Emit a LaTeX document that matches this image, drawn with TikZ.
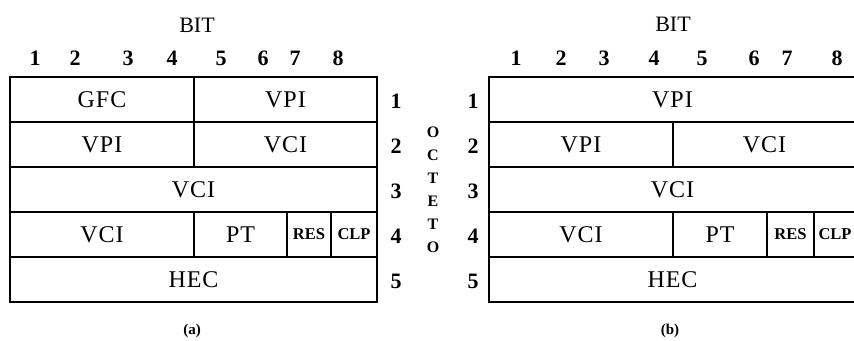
\documentclass[tikz,border=0pt]{standalone}
\usepackage{fontspec}
\setmainfont{Liberation Serif}
\newfontfamily\cellfont[LetterSpace=4]{Liberation Serif}
\newfontfamily\numfont{Liberation Serif}
\begin{document}
\begin{tikzpicture}[x=1pt,y=-1pt,
  cell/.style={draw, line width=1.2pt, minimum height=45pt, inner sep=0pt,
    font=\cellfont\fontsize{24}{24}\selectfont},
  smallcell/.style={cell, font=\numfont\bfseries\fontsize{16.5}{16.5}\selectfont},
  bitnum/.style={font=\numfont\bfseries\fontsize{22}{22}\selectfont, inner sep=0pt},
  rownum/.style={font=\numfont\bfseries\fontsize{22}{22}\selectfont, inner sep=0pt},
  octlet/.style={font=\numfont\bfseries\fontsize{16}{16}\selectfont, inner sep=0pt},
  bittitle/.style={font=\numfont\fontsize{22}{22}\selectfont, inner sep=0pt},
  caption/.style={font=\numfont\bfseries\fontsize{15}{15}\selectfont, inner sep=0pt}]
\useasboundingbox (0,0) rectangle (854,340);
\clip (0,0) rectangle (854,340);
% ---------- (a) ----------
\node[bittitle] (abit) at (197,25) {BIT};
\foreach \n/\x in {1/35,2/75,3/128,4/172,5/221,6/263,7/295,8/338}
  \node[bitnum] (ab\n) at (\x,58) {\n};
\node[cell, minimum width=184pt] (a11) at (102,99.5) {GFC};
\node[cell, minimum width=183pt] (a12) at (285.5,99.5) {VPI};
\node[cell, minimum width=184pt] (a21) at (102,144.5) {VPI};
\node[cell, minimum width=183pt] (a22) at (285.5,144.5) {VCI};
\node[cell, minimum width=367pt] (a31) at (193.5,189.5) {VCI};
\node[cell, minimum width=184pt] (a41) at (102,234.5) {VCI};
\node[cell, minimum width=93pt] (a42) at (240.5,234.5) {PT};
\node[smallcell, minimum width=44pt] (a43) at (309,234.5) {RES};
\node[smallcell, minimum width=46pt] (a44) at (354,234.5) {CLP};
\node[cell, minimum width=367pt] (a51) at (193.5,279.5) {HEC};
\foreach \n/\y in {1/101,2/146,3/191,4/236,5/281}
  \node[rownum] (ar\n) at (396,\y) {\n};
\node[caption] (acap) at (192,331) {(a)};
% ---------- OCTETO ----------
\foreach \l/\y [count=\i] in {O/132,C/155,T/178,E/201,T/224,O/247}
  \node[octlet] (oct\i) at (433,\y) {\l};
% ---------- (b) ----------
\node[bittitle] (bbit) at (673,24) {BIT};
\foreach \n/\x in {1/516,2/561,3/604,4/654,5/702,6/754,7/787,8/837}
  \node[bitnum] (bb\n) at (\x,58) {\n};
\node[cell, minimum width=367pt] (b11) at (672.5,99.5) {VPI};
\node[cell, minimum width=184pt] (b21) at (581,144.5) {VPI};
\node[cell, minimum width=183pt] (b22) at (764.5,144.5) {VCI};
\node[cell, minimum width=367pt] (b31) at (672.5,189.5) {VCI};
\node[cell, minimum width=184pt] (b41) at (581,234.5) {VCI};
\node[cell, minimum width=94pt] (b42) at (720,234.5) {PT};
\node[smallcell, minimum width=47pt] (b43) at (790.5,234.5) {RES};
\node[smallcell, minimum width=42pt] (b44) at (835,234.5) {CLP};
\node[cell, minimum width=367pt] (b51) at (672.5,279.5) {HEC};
\foreach \n/\y in {1/101,2/146,3/191,4/236,5/281}
  \node[rownum] (br\n) at (473,\y) {\n};
\node[caption] (bcap) at (670,331) {(b)};
\end{tikzpicture}
\end{document}
